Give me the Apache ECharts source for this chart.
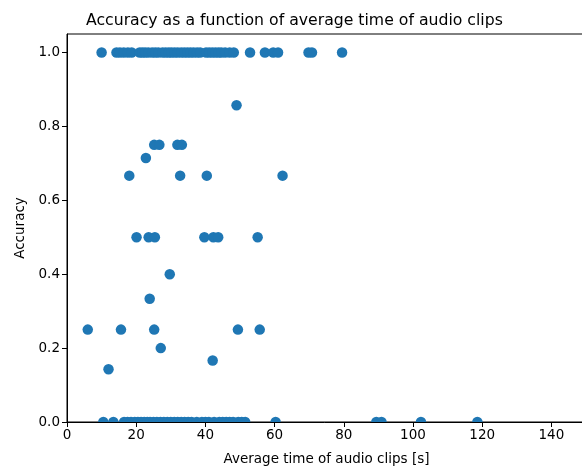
<!DOCTYPE html>
<html>
<head>
<meta charset="utf-8">
<script src="https://cdn.jsdelivr.net/npm/echarts@6/dist/echarts.min.js"></script>
<style>
  html, body { margin: 0; padding: 0; background: #fff; }
  #chart { width: 582px; height: 469px; }
</style>
</head>
<body>
<div id="chart"></div>
<script>
// Average clip duration (s) and the accuracy reached for each participant group
const fullAccuracyTimes = [10.0, 14.3, 15.3, 16.4, 17.6, 18.7, 21.0, 21.8, 22.6, 23.5, 24.6, 25.5,
  26.4, 27.6, 28.5, 29.4, 30.2, 31.1, 32.0, 33.0, 33.9, 34.8, 35.7, 36.6, 37.6, 38.5, 40.2, 41.1,
  42.0, 42.9, 43.8, 44.6, 45.7, 47.0, 48.2, 52.9, 57.2, 59.6, 61.0, 69.8, 70.8, 79.5];

const zeroAccuracyTimes = [10.5, 13.4, 16.5, 17.5, 18.5, 19.6, 20.5, 21.4, 22.3, 23.2, 24.0, 25.0,
  26.0, 27.0, 28.0, 29.0, 30.0, 31.0, 32.0, 33.0, 34.0, 35.0, 36.0, 37.5, 39.0, 40.0, 41.0, 42.5,
  44.0, 45.0, 46.0, 47.0, 48.0, 49.5, 50.5, 51.5, 60.3, 89.4, 90.9, 102.3, 118.6];

const partialTimes = [49.0, 25.2, 26.7, 31.9, 33.2, 22.8, 18.0, 32.7, 40.4, 62.3, 20.1, 23.6,
  25.4, 39.7, 42.3, 43.7, 55.1, 29.7, 23.9, 6.0, 15.6, 25.2, 49.4, 55.7, 27.1, 42.1, 12.0];
const partialAccuracy = [6/7, 0.75, 0.75, 0.75, 0.75, 5/7, 2/3, 2/3, 2/3, 2/3, 0.5, 0.5,
  0.5, 0.5, 0.5, 0.5, 0.5, 0.4, 1/3, 0.25, 0.25, 0.25, 0.25, 0.25, 0.2, 1/6, 1/7];

const xTicks = [0, 20, 40, 60, 80, 100, 120, 140];
const yTicks = [0, 0.2, 0.4, 0.6, 0.8, 1.0];

const points = [];
fullAccuracyTimes.forEach(t => points.push([t, 1.0]));
zeroAccuracyTimes.forEach(t => points.push([t, 0.0]));
partialTimes.forEach((t, i) => points.push([t, partialAccuracy[i]]));

const font = 'DejaVu Sans';
const gridLeft = 67, gridTop = 34, gridWidth = 519, gridHeight = 388;

const chart = echarts.init(document.getElementById('chart'), null, { renderer: 'canvas' });

chart.setOption({
  animation: false,
  backgroundColor: '#ffffff',
  title: {
    text: 'Accuracy as a function of average time of audio clips',
    left: 81,
    top: 8,
    textStyle: { fontFamily: font, fontSize: 15.7, fontWeight: 'normal', color: '#000' }
  },
  grid: {
    left: gridLeft, top: gridTop, width: gridWidth, height: gridHeight,
    outerBoundsMode: 'none',
    show: true, borderColor: '#000', borderWidth: 1, backgroundColor: 'transparent'
  },
  // markers sitting on the lower spine are cut at the plot edge
  graphic: [{
    type: 'rect', z: 5, silent: true,
    shape: { x: gridLeft - 8, y: gridTop + gridHeight + 0.5, width: gridWidth + 20, height: 8 },
    style: { fill: '#ffffff' }
  }],
  xAxis: {
    type: 'value', min: 0, max: 150, z: 10,
    name: 'Average time of audio clips [s]',
    nameLocation: 'middle', nameGap: 30,
    nameTextStyle: { fontFamily: font, fontSize: 13.5, color: '#000' },
    axisLine: { show: true, onZero: false, lineStyle: { color: '#000', width: 1 } },
    axisTick: { show: true, length: 5, inside: false, customValues: xTicks, lineStyle: { color: '#000', width: 1 } },
    axisLabel: { customValues: xTicks, fontFamily: font, fontSize: 13.5, color: '#000', margin: 6 },
    splitLine: { show: false }
  },
  yAxis: {
    type: 'value', min: 0, max: 1.05, z: 10,
    name: 'Accuracy',
    nameLocation: 'middle', nameGap: 40,
    nameTextStyle: { fontFamily: font, fontSize: 13.5, color: '#000' },
    axisLine: { show: true, onZero: false, lineStyle: { color: '#000', width: 1 } },
    axisTick: { show: true, length: 5, inside: false, customValues: yTicks, lineStyle: { color: '#000', width: 1 } },
    axisLabel: {
      customValues: yTicks, fontFamily: font, fontSize: 13.5, color: '#000', margin: 7,
      formatter: v => Number(v).toFixed(1)
    },
    splitLine: { show: false }
  },
  series: [{
    type: 'scatter',
    data: points,
    symbolSize: 10.5,
    clip: true,
    itemStyle: { color: '#1f77b4', opacity: 1 }
  }]
});
</script>
</body>
</html>
